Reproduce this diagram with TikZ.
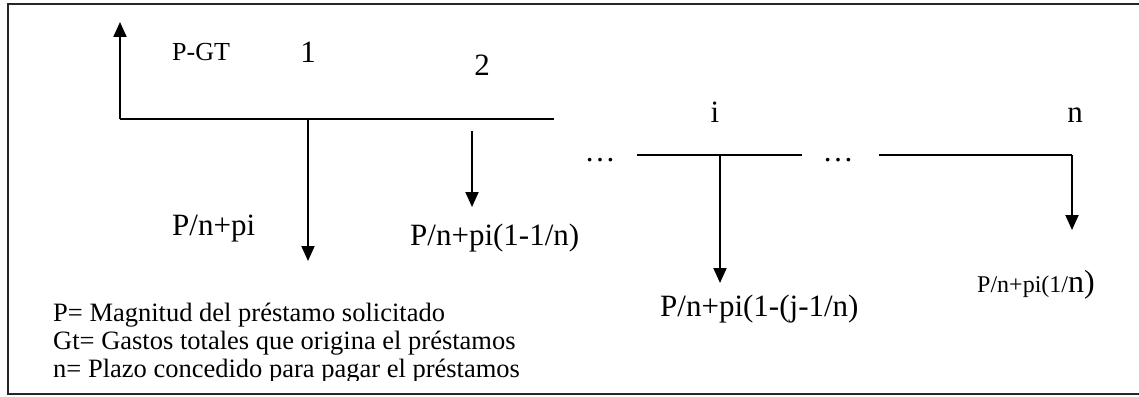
\documentclass[tikz,border=0pt]{standalone}
\usepackage{fontspec}
\setmainfont{Liberation Serif}
\usetikzlibrary{arrows.meta}
\tikzset{
  flow/.style={line width=2pt, -{Triangle[width=13pt,length=15pt]}},
  axis/.style={line width=2pt},
  lbl/.style={inner sep=0pt, anchor=base},
  big/.style={font=\fontsize{31}{33}\selectfont},
  mid/.style={font=\fontsize{26}{28}\selectfont},
  legtxt/.style={inner sep=0pt, anchor=base west, font=\fontsize{26.5}{28}\selectfont},
}
\begin{document}
\begin{tikzpicture}[x=1pt,y=-1pt]
\useasboundingbox (0,0) rectangle (1139,396);
% frame
\draw[line width=2.2pt, black!85] (1145,4) -- (8,4) -- (8,394) -- (1145,394);
% axis coordinates
\coordinate (o) at (120,119);
\coordinate (up) at (120,22);
\coordinate (e1) at (554,119);
\coordinate (t1) at (308,119);
\coordinate (b1) at (308,261);
\coordinate (t2) at (472,131);
\coordinate (b2) at (472,207);
\coordinate (s2) at (637,155);
\coordinate (e2) at (802,155);
\coordinate (ti) at (720,155);
\coordinate (bi) at (720,283);
\coordinate (s3) at (879,155);
\coordinate (tn) at (1072,155);
\coordinate (bn) at (1072,230);
% axes
\draw[flow] (o) -- (up);
\draw[axis] (o) -- (e1);
\draw[flow] (t1) -- (b1);
\draw[flow] (t2) -- (b2);
\draw[axis] (s2) -- (e2);
\draw[flow] (ti) -- (bi);
\draw[axis] (s3) -- (tn);
\draw[flow] (tn) -- (bn);
% labels
\node[lbl, mid, anchor=base west] (pgt) at (172,60) {P-GT};
\node[lbl, big] (n1) at (308,63) {1};
\node[lbl, big] (n2) at (482,75) {2};
\node[lbl, big] (ni) at (715,122) {i};
\node[lbl, big] (nn) at (1075,122) {n};
\node[lbl, big] (d1) at (600,161) {\dots};
\node[lbl, big] (d2) at (838,161) {\dots};
\node[lbl, big, anchor=base west] (v1) at (172,235) {P/n+pi};
\node[lbl, big, anchor=base west] (v2) at (410,245) {P/n+pi(1-1/n)};
\node[lbl, big, anchor=base west] (vi) at (660,316) {P/n+pi(1-(j-1/n)};
\node[lbl, anchor=base west] (vn) at (977,292) {\fontsize{24}{26}\selectfont P/n+pi(1/\fontsize{32}{34}\selectfont n)};
% legend (last line clipped as in the reference)
\begin{scope}
\clip (0,0) rectangle (1139,380);
\node[legtxt] (leg1) at (53,321) {P= Magnitud del préstamo solicitado};
\node[legtxt] (leg2) at (53,349) {Gt= Gastos totales que origina el préstamos};
\node[legtxt] (leg3) at (53,377) {n= Plazo concedido para pagar el préstamos};
\end{scope}
\end{tikzpicture}
\end{document}
